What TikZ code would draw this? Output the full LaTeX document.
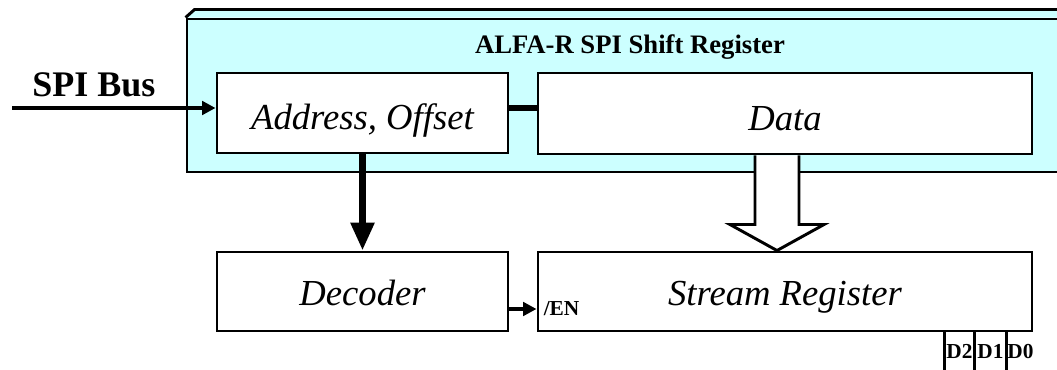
\documentclass[tikz,border=0pt]{standalone}
\usepackage{fontspec}
\setmainfont{Liberation Serif}[
  ItalicFont={Liberation Serif Italic},
  BoldFont={Liberation Serif Bold},
  BoldItalicFont={Liberation Serif Bold Italic}]
\usetikzlibrary{arrows.meta,fit,calc}
\definecolor{regcyan}{HTML}{CCFFFF}
\begin{document}
\begin{tikzpicture}[x=0.75pt,y=-0.75pt,
  blk/.style={draw, line width=2.2pt, fill=white, inner sep=0pt},
  txt/.style={font=\fontsize{27.5}{30}\selectfont\itshape, inner sep=0pt, anchor=base},
  regbox/.style={draw, line width=2.2pt, fill=regcyan, inner sep=0pt},
  lbl/.style={font=\fontsize{16}{18}\selectfont\bfseries, inner sep=0pt},
  wire/.style={line width=3pt, -{Triangle[length=10pt,width=10pt]}},
  bus/.style={line width=5pt, -{Triangle[length=21pt,width=17pt]}},
  hollow/.style={draw, fill=white, line width=2.2pt, line join=miter},
  pin/.style={line width=2.2pt}]
\useasboundingbox (0,0) rectangle (1057,370);
\clip (0,0) rectangle (1057,370);

% shift register housing (runs off the right edge), with its top bevel
\node[regbox, fit={(187,19)(1075,172)}] (shreg) {};
\filldraw[fill=regcyan, line width=2.2pt] (shreg.north west) -- ++(9,-8) -- ++(900,0) -- ++(0,8);
\node[font=\fontsize{20}{24}\selectfont\bfseries, anchor=base] (title) at (630,54) {ALFA-R SPI Shift Register};

% register fields
\node[blk, fit={(217,73)(508,153)}] (addr) {};
\node[blk, fit={(538,73)(1032,154)}] (data) {};
\node[txt] (addrtxt) at ($(addr.center)+(0,17)$) {Address, Offset};
\node[txt] (datatxt) at ($(data.center)+(0,17)$) {Data};

% lower blocks
\node[blk, fit={(217,252)(508,331)}] (dec) {};
\node[blk, fit={(538,252)(1032,331)}] (stream) {};
\node[txt] (dectxt) at ($(dec.center)+(0,14)$) {Decoder};
\node[txt] (streamtxt) at ($(stream.center)+(0,14)$) {Stream Register};

% serial input
\coordinate (busin) at (12,108);
\node[font=\fontsize{27}{30}\selectfont\bfseries, anchor=base west, inner sep=0pt] (buslbl) at (32,97) {SPI Bus};
\draw[wire] (busin) -- (busin -| addr.west);
\draw[line width=3.8pt] (addr.east |- busin) -- (data.west |- busin);

% address decode path
\draw[bus] (addr.south) -- (dec.north);
\coordinate (en) at ($(dec.east)+(0,17.5)$);
\draw[wire] (en) -- (en -| stream.west);
\node[lbl, anchor=base west] (enlbl) at ($(stream.west)+(7,24)$) {/EN};

% parallel data transfer
\draw[hollow] ($(data.south)+(-30,0)$) -- ($(stream.north)+(-30,-26)$)
  -- ($(stream.north)+(-55,-26)$) -- ($(stream.north)+(-8,0)$)
  -- ($(stream.north)+(39,-26)$) -- ($(stream.north)+(14,-26)$)
  -- ($(data.south)+(14,0)$);

% output bits
\draw[pin] ($(stream.south east)+(-89,0)$) -- ++(0,45);
\draw[pin] ($(stream.south east)+(-59,0)$) -- ++(0,45);
\draw[pin] ($(stream.south east)+(-27,0)$) -- ++(0,45);
\node[lbl, anchor=base] (d2) at ($(stream.south east)+(-74,26)$) {D2};
\node[lbl, anchor=base] (d1) at ($(stream.south east)+(-43,26)$) {D1};
\node[lbl, anchor=base] (d0) at ($(stream.south east)+(-13,26)$) {D0};
\end{tikzpicture}
\end{document}
